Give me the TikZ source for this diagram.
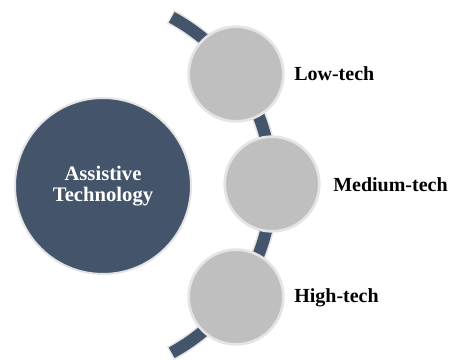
\documentclass[tikz,border=0pt]{standalone}
\usepackage{fontspec}
\setmainfont{Liberation Serif}
\definecolor{slate}{HTML}{44546A}
\definecolor{itemgray}{HTML}{BFBFBF}
\definecolor{rimgray}{HTML}{E4E4E4}
\begin{document}
\begin{tikzpicture}[x=0.75pt,y=0.75pt,
    hub/.style={circle,fill=slate,draw=rimgray,line width=1.5pt,minimum size=132pt,
      text=white,align=center,font=\bfseries\fontsize{15.5}{15.75}\selectfont},
    item/.style={circle,fill=itemgray,draw=rimgray,line width=2pt,minimum size=71pt},
    tag/.style={anchor=base west,inner sep=0pt,font=\bfseries\fontsize{15}{18}\selectfont}]
    \useasboundingbox (0,0) rectangle (453,360);
    \coordinate (O) at (81,175);
    \draw[rimgray,line width=11.5pt]([shift={(62:143pt)}]O) arc (62:-62:143pt);
    \draw[slate,line width=9pt]([shift={(61.6:143pt)}]O) arc (61.6:-61.6:143pt);
    \node[hub] (at) at (103,174) {Assistive\\Technology};
    \node[item] (low) at (236,286) {};
    \node[item] (medium) at (272,176) {};
    \node[item] (high) at (236,63) {};
    \node[tag] (lowtag) at (294,279) {Low-tech};
    \node[tag] (mediumtag) at (333,168) {Medium-tech};
    \node[tag] (hightag) at (294,57) {High-tech};
\end{tikzpicture}
\end{document}
